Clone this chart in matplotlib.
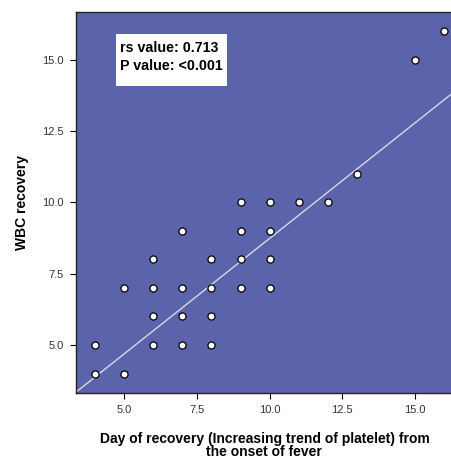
import numpy as np
import matplotlib.pyplot as plt
from matplotlib.patches import Rectangle

plt.rcParams['font.family'] = ['Liberation Sans', 'DejaVu Sans']

# Day of recovery (platelet) vs WBC recovery
day_recovery = [4, 4, 5, 5, 6, 6, 6, 6, 7, 7, 7, 7, 8, 8, 8, 8,
                9, 9, 9, 9, 10, 10, 10, 10, 11, 12, 13, 15, 16]
wbc_recovery = [4, 5, 4, 7, 5, 6, 7, 8, 5, 6, 7, 9, 5, 6, 7, 8,
                7, 8, 9, 10, 7, 8, 9, 10, 10, 10, 11, 15, 16]

# fit line
fit_slope = 0.81
fit_intercept = 0.64

x_ticks = [5.0, 7.5, 10.0, 12.5, 15.0]
y_ticks = [5.0, 7.5, 10.0, 12.5, 15.0]

fig = plt.figure(figsize=(4.52, 4.59), dpi=100)
ax = fig.add_axes([0.168, 0.144, 0.834, 0.83])
ax.set_facecolor('#5b63ab')

xlim = (3.34, 16.3)
ylim = (3.32, 16.68)

xs = np.array(xlim)
ax.plot(xs, fit_intercept + fit_slope * xs, color='#d8d8e8', lw=1.0, zorder=2)

ax.scatter(day_recovery, wbc_recovery, s=26, facecolor='white',
           edgecolor='black', linewidths=0.9, zorder=3, clip_on=False)

ax.set_xlim(*xlim)
ax.set_ylim(*ylim)
ax.set_xticks(x_ticks)
ax.set_yticks(y_ticks)
ax.set_xticklabels([f'{t:.1f}' for t in x_ticks])
ax.set_yticklabels([f'{t:.1f}' for t in y_ticks])
ax.tick_params(labelsize=8, colors='#333333', length=4, width=0.8, pad=5)
ax.tick_params(axis='both', color='black')

for sp in ax.spines.values():
    sp.set_color('#222222')
    sp.set_linewidth(1.0)

ax.set_xlabel('Day of recovery (Increasing trend of platelet) from\nthe onset of fever',
              fontsize=10, fontweight='bold', labelpad=12, linespacing=0.9)
ax.set_ylabel('WBC recovery', fontsize=10, fontweight='bold', labelpad=9)

# stats box
ax.add_patch(Rectangle((0.106, 0.806), 0.295, 0.136, transform=ax.transAxes,
                       facecolor='white', edgecolor='none', zorder=4))
ax.text(0.117, 0.881, 'rs value: 0.713\nP value: <0.001', transform=ax.transAxes,
        fontsize=10.3, fontweight='bold', va='center', ha='left',
        linespacing=1.35, zorder=5)

fig.savefig('out.png', dpi=100)
